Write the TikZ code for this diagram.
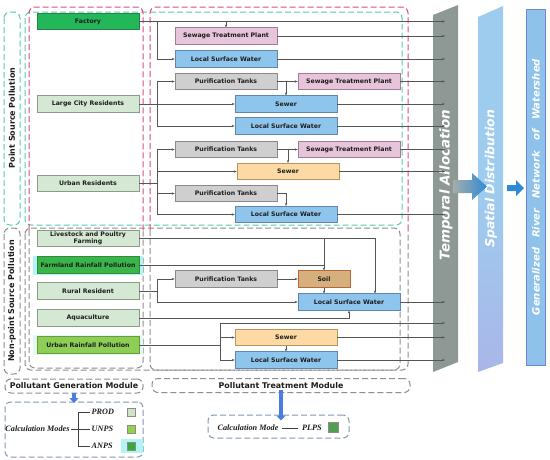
\documentclass[tikz,border=0pt]{standalone}
\usepackage{fontspec}
\setmainfont{DejaVu Sans}
\newfontfamily\cmfont{Liberation Serif}
\usetikzlibrary{arrows.meta}
\definecolor{lncol}{HTML}{555555}
\definecolor{txtc}{HTML}{1E1E1E}
\definecolor{cLG}{HTML}{D5E8D4}
\definecolor{cLGB}{HTML}{8C9A8A}
\definecolor{cFac}{HTML}{22B85A}
\definecolor{cFacB}{HTML}{2E7D4A}
\definecolor{cFarm}{HTML}{39B54A}
\definecolor{cFarmB}{HTML}{2E8B3E}
\definecolor{cUrp}{HTML}{8DCF55}
\definecolor{cUrpB}{HTML}{6A9A40}
\definecolor{cPink}{HTML}{E6C4DA}
\definecolor{cPinkB}{HTML}{A67B95}
\definecolor{cBlue}{HTML}{8EC5ED}
\definecolor{cBlueB}{HTML}{5F87B0}
\definecolor{cGray}{HTML}{CFCFCF}
\definecolor{cGrayB}{HTML}{8A8A8A}
\definecolor{cOr}{HTML}{FDDAA3}
\definecolor{cOrB}{HTML}{B8955E}
\definecolor{cSoil}{HTML}{D5B07D}
\definecolor{cSoilB}{HTML}{B5673F}
\definecolor{cTeal}{HTML}{55CCB4}
\definecolor{cRed}{HTML}{DE4C78}
\definecolor{cDG}{HTML}{8E8E8E}
\definecolor{cCalc}{HTML}{8498B4}
\definecolor{cTemp}{HTML}{8E9995}
\definecolor{cSpat}{HTML}{9DCCEE}
\definecolor{cSpat2}{HTML}{A9B6E8}
\definecolor{cGen}{HTML}{8FC2EA}
\definecolor{cGenB}{HTML}{7088D0}
\definecolor{cArr}{HTML}{2F8AD6}
\definecolor{cDown}{HTML}{4A7DE0}
\definecolor{cGlow}{HTML}{B4F4F4}
\definecolor{cGlow2}{HTML}{E2F8F0}
\definecolor{cSqP}{HTML}{D0E4C8}
\definecolor{cSqU}{HTML}{92D050}
\definecolor{cSqA}{HTML}{3AA83A}
\definecolor{cSqL}{HTML}{4F9F50}
\begin{document}
\begin{tikzpicture}[x=1pt,y=-1pt,
  ln/.style={draw=lncol, line width=0.5pt},
  arr/.style={ln, -{Stealth[length=3pt,width=2.4pt]}},
  nd/.style={draw, line width=0.6pt, minimum width=102pt, minimum height=16.5pt, inner sep=0pt,
    font=\bfseries\fontsize{6.2}{7}\selectfont, text=txtc, align=center},
  srcL/.style={nd, fill=cLG, draw=cLGB},
  pinkbox/.style={nd, fill=cPink, draw=cPinkB},
  bluebox/.style={nd, fill=cBlue, draw=cBlueB},
  graybox/.style={nd, fill=cGray, draw=cGrayB},
  orbox/.style={nd, fill=cOr, draw=cOrB},
  dline/.style={draw=#1, dash pattern=on 6pt off 3pt, line width=1pt, rounded corners=6pt},
  sidelab/.style={rotate=90, font=\bfseries\fontsize{8}{9}\selectfont, text=txtc},
  modlab/.style={draw=cDG, dash pattern=on 6pt off 3pt, line width=1pt, rounded corners=6pt,
    font=\bfseries\fontsize{7.9}{9}\selectfont, text=txtc, inner sep=0pt, minimum height=14pt},
  cmtext/.style={font=\cmfont\bfseries\itshape\fontsize{8.2}{9}\selectfont, text=txtc, inner sep=1.5pt},
  sq/.style={draw=black!45, line width=0.3pt, minimum size=8pt, inner sep=0pt},
  downarr/.style={draw=cDown, line width=3.2pt, -{Triangle[length=5pt,width=9pt]}},
  bartext/.style={rotate=90, text=white, font=\bfseries\itshape\fontsize{#1}{#1}\selectfont}
]
\useasboundingbox (0,0) rectangle (550,459);
\fill[white] (0,0) rectangle (550,459);

% ---- dashed frames ----
\draw[dline=cTeal] (4,12) rectangle (20,225);
\draw[dline=cDG] (4,228) rectangle (20,374);
\draw[dline=cTeal] (25,12) rectangle (402,225);
\draw[dline=cDG] (25,228) rectangle (400,370);
\draw[dline=cRed] (29,230) -- (29,7) -- (143,7) -- (143,230);
\draw[dline=cDG] (29,230) -- (29,368) -- (143,368) -- (143,230);
\draw[dline=cRed] (150,230) -- (150,7) -- (408,7) -- (408,230);
\draw[dline=cDG] (150,230) -- (150,370) -- (408,370) -- (408,230);

\node[sidelab] (psp) at (12,118) {Point Source Pollution};
\node[sidelab] (npsp) at (12,301) {Non-point Source Pollution};

% ---- right bars ----
\fill[cTemp] (433,15) -- (458,5) -- (458,362) -- (433,372) -- cycle;
\shade[top color=cSpat, bottom color=cSpat2, middle color=cSpat] (478,17) -- (503,6) -- (503,363) -- (478,372) -- cycle;
\filldraw[fill=cGen, draw=cGenB, line width=0.8pt] (526,9) rectangle (545,365);
\node[bartext=13.5] (tal) at (446,185) {Temporal Allocation};
\node[bartext=12.5] (spd) at (491,179) {Spatial Distribution};
\node[bartext=10] (grn) at (536,187) {Generalized\hspace{10pt}River\hspace{10pt}Network\hspace{10pt}of\hspace{10pt}Watershed};
\shade[left color=cTemp!80, right color=cArr] (453,180) -- (472,180) -- (472,173) -- (487,186.5) -- (472,200) -- (472,193) -- (453,193) -- cycle;
\fill[cArr] (507,185) -- (516,185) -- (516,180) -- (524,188) -- (516,196) -- (516,191) -- (507,191) -- cycle;

% ---- glows ----
\fill[cGlow] (33,256) rectangle (143,274.5);
\fill[cGlow2] (33,335) rectangle (143,355);

% ---- source nodes ----
\node[nd, fill=cFac, draw=cFacB] (fac) at (88,21.5) {Factory};
\node[srcL] (lcr) at (88,104) {Large City Residents};
\node[srcL] (ur) at (88,183.5) {Urban Residents};
\node[srcL, font=\bfseries\fontsize{6.2}{7.2}\selectfont] (lpf) at (88,238.5) {Livestock and Poultry\\Farming};
\node[nd, fill=cFarm, draw=cFarmB] (frp) at (88,265) {Farmland Rainfall Pollution};
\node[srcL] (rr) at (88,291) {Rural Resident};
\node[srcL] (aq) at (88,318) {Aquaculture};
\node[nd, fill=cUrp, draw=cUrpB] (urp) at (88,345) {Urban Rainfall Pollution};

% ---- treatment nodes ----
\node[pinkbox] (stp1) at (226,36) {Sewage Treatment Plant};
\node[bluebox] (lsw1) at (226,59) {Local Surface Water};
\node[graybox] (pt1) at (226,81.5) {Purification Tanks};
\node[pinkbox] (stp2) at (349,81.5) {Sewage Treatment Plant};
\node[bluebox] (sw1) at (286,104) {Sewer};
\node[bluebox] (lsw2) at (286,126) {Local Surface Water};
\node[graybox] (pt2) at (226,149.5) {Purification Tanks};
\node[pinkbox] (stp3) at (349,149.5) {Sewage Treatment Plant};
\node[orbox] (sw2) at (288,171.5) {Sewer};
\node[graybox] (pt3) at (226,193.5) {Purification Tanks};
\node[bluebox] (lsw3) at (286,214.5) {Local Surface Water};
\node[graybox] (pt4) at (226,279) {Purification Tanks};
\node[nd, fill=cSoil, draw=cSoilB, minimum width=52pt] (soil) at (324,279) {Soil};
\node[bluebox] (lsw4) at (349,302) {Local Surface Water};
\node[orbox] (sw3) at (286,337.5) {Sewer};
\node[bluebox] (lsw5) at (286,360) {Local Surface Water};

\coordinate (tend) at (445,0);
\coordinate (bx) at (157,0);
\coordinate (ut) at (220,323);

% ---- Factory ----
\draw[arr] (fac.east) -- (fac.east -| tend);
\draw[arr] (stp1.north |- fac.east) -- (stp1.north);
\draw[arr] (fac.east -| bx) -- (bx |- lsw1.west) -- (lsw1.west);
\draw[arr] (stp1.east) -- (stp1.east -| tend);
\draw[arr] (lsw1.east) -- (lsw1.east -| tend);
% ---- Large city ----
\draw[arr] (lcr.east) -- (sw1.west);
\draw[ln] (bx |- pt1.west) -- (bx |- lsw2.west);
\draw[arr] (bx |- pt1.west) -- (pt1.west);
\draw[arr] (bx |- lsw2.west) -- (lsw2.west);
\draw[arr] (pt1.east) -- (stp2.west);
\draw[arr] (sw1.north |- pt1.east) -- (sw1.north);
\draw[arr] (stp2.east) -- (stp2.east -| tend);
\draw[arr] (sw1.east) -- (sw1.east -| tend);
\draw[arr] (lsw2.east) -- (lsw2.east -| tend);
% ---- Urban residents ----
\draw[ln] (ur.east) -- (bx |- ur.east);
\draw[ln] (bx |- pt2.west) -- (bx |- lsw3.west);
\draw[arr] (bx |- pt2.west) -- (pt2.west);
\draw[arr] (bx |- sw2.west) -- (sw2.west);
\draw[arr] (bx |- pt3.west) -- (pt3.west);
\draw[arr] (bx |- lsw3.west) -- (lsw3.west);
\draw[arr] (pt2.east) -- (stp3.west);
\draw[arr] (sw2.north |- pt2.east) -- (sw2.north);
\draw[arr] (pt3.east) -| (lsw3.north);
\draw[arr] (stp3.east) -- (stp3.east -| tend);
\draw[arr] (sw2.east) -- (sw2.east -| tend);
\draw[arr] (lsw3.east) -- (lsw3.east -| tend);
% ---- Non-point ----
\draw[arr] (lpf.east) -| ([xshift=26pt]lsw4.north);
\draw[arr] (soil.north |- lpf.east) -- (soil.north);
\draw[ln] (frp.east) -- (soil.north |- frp.east);
\draw[arr] (soil.south) -- (soil.south |- lsw4.north);
\draw[ln] (rr.east) -- (bx |- rr.east);
\draw[ln] (bx |- pt4.west) -- (bx |- lsw4.west);
\draw[arr] (bx |- pt4.west) -- (pt4.west);
\draw[arr] (bx |- lsw4.west) -- (lsw4.west);
\draw[arr] (pt4.east) -- (soil.west);
\draw[arr] (lsw4.east) -- (lsw4.east -| tend);
\draw[arr] (aq.east) -| (lsw4.south);
\draw[ln] (urp.east) -- (ut |- urp.east);
\draw[ln] (ut) -- (ut |- lsw5.west);
\draw[arr] (ut) -- (ut -| tend);
\draw[arr] (ut |- sw3.west) -- (sw3.west);
\draw[arr] (ut |- lsw5.west) -- (lsw5.west);
\draw[arr] (sw3.south) -- (sw3.south |- lsw5.north);
\draw[arr] (sw3.east) -- (sw3.east -| tend);
\draw[arr] (lsw5.east) -- (lsw5.east -| tend);

% ---- bottom modules ----
\node[modlab, minimum width=138pt] (gen) at (74,386) {Pollutant Generation Module};
\node[modlab, minimum width=258pt] (trt) at (281,385.5) {Pollutant Treatment Module};
\node[draw=cCalc, dash pattern=on 6pt off 3pt, line width=1pt, rounded corners=5pt,
  minimum width=138pt, minimum height=55pt, inner sep=0pt] (calc1) at (74,429.5) {};
\node[draw=cCalc, dash pattern=on 6pt off 3pt, line width=1pt, rounded corners=6pt,
  minimum width=141pt, minimum height=23pt, inner sep=0pt] (calc2) at (278.5,426.5) {};
\draw[downarr] ([yshift=1pt]gen.south) -- ([yshift=-1.5pt]gen.south |- calc1.north);
\draw[downarr] ([yshift=3pt]trt.south) -- ([yshift=-6pt]trt.south |- calc2.north);

\fill[cGlow] (121,439) rectangle (143,453);
\node[cmtext] (cmodes) at (37.5,429) {Calculation Modes};
\node[cmtext, anchor=west] (prod) at (90,412) {PROD};
\node[cmtext, anchor=west] (unps) at (90,429) {UNPS};
\node[cmtext, anchor=west] (anps) at (90,446) {ANPS};
\coordinate (bk) at (78,429);
\draw[ln, draw=black!75] (cmodes.east) -- (unps.west);
\draw[ln, draw=black!75] (prod.west) -- (prod.west -| bk) -- (anps.west -| bk) -- (anps.west);
\node[sq, fill=cSqP] (sqp) at (131,412) {};
\node[sq, fill=cSqU] (squ) at (131,429) {};
\node[sq, fill=cSqA] (sqa) at (131,446) {};

\node[cmtext] (cmode) at (248,428) {Calculation Mode};
\node[cmtext] (plps) at (312,428) {PLPS};
\draw[ln, draw=black!75, line width=0.6pt] ([xshift=2pt]cmode.east) -- ([xshift=-3pt]plps.west);
\node[sq, fill=cSqL, minimum size=10pt] (sql) at (333.5,427) {};
\end{tikzpicture}
\end{document}
